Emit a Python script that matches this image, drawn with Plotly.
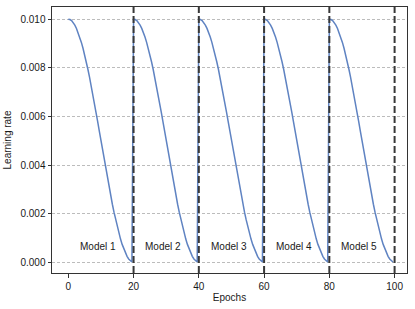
import plotly.graph_objects as go

# Learning-rate values within one cycle (epoch offsets 0 .. 19.5, half-epoch steps)
cycle_offsets = [0, 0.5, 1, 1.5, 2, 2.5, 3, 3.5, 4, 4.5, 5, 5.5, 6, 6.5, 7, 7.5, 8, 8.5, 9, 9.5,
                 10, 10.5, 11, 11.5, 12, 12.5, 13, 13.5, 14, 14.5, 15, 15.5, 16, 16.5, 17, 17.5,
                 18, 18.5, 19, 19.5]
cycle_lr = [0.010000, 0.009985, 0.009938, 0.009862, 0.009755, 0.009619, 0.009455, 0.009263,
            0.009045, 0.008802, 0.008536, 0.008247, 0.007939, 0.007612, 0.007270, 0.006913,
            0.006545, 0.006167, 0.005782, 0.005392, 0.005000, 0.004608, 0.004218, 0.003833,
            0.003455, 0.003087, 0.002730, 0.002388, 0.002061, 0.001753, 0.001464, 0.001198,
            0.000955, 0.000737, 0.000545, 0.000381, 0.000245, 0.000138, 0.000062, 0.000015]
cycle_starts = [0, 20, 40, 60, 80]
model_labels = ["Model 1", "Model 2", "Model 3", "Model 4", "Model 5"]
boundaries = [20, 40, 60, 80, 100]
x_ticks = [0, 20, 40, 60, 80, 100]
y_ticks = [0.000, 0.002, 0.004, 0.006, 0.008, 0.010]

epochs = []
lrs = []
for s in cycle_starts:
    epochs += [s + o for o in cycle_offsets]
    lrs += cycle_lr

FONT = "Liberation Sans, Arial, sans-serif"
TXT = "#1a1a1a"
fig = go.Figure()
fig.add_trace(go.Scatter(x=epochs, y=lrs, mode="lines",
                         line=dict(color="#5F83C2", width=1.5), showlegend=False))

for b in boundaries:
    fig.add_shape(type="line", x0=b, x1=b, y0=0, y1=1, xref="x", yref="paper",
                  line=dict(color="#383838", width=2, dash="7px,3px"), layer="above")

for s, lab in zip(cycle_starts, model_labels):
    fig.add_annotation(x=s + 3, y=0.00063, text=lab, showarrow=False, xanchor="left",
                       yanchor="middle", font=dict(size=10, color=TXT, family=FONT))

axis_common = dict(showline=True, linecolor="#333333", linewidth=1, mirror=True,
                   ticks="outside", ticklen=3.5, tickwidth=1, tickcolor="#333333",
                   zeroline=False, automargin=False,
                   tickfont=dict(size=10, color=TXT, family=FONT))

fig.update_xaxes(range=[-5, 103.8], tickvals=x_ticks, showgrid=False,
                 title=dict(text="Epochs", font=dict(size=10, color=TXT, family=FONT), standoff=3),
                 **axis_common)
fig.update_yaxes(range=[-0.00044, 0.0105], tickvals=y_ticks, tickformat=".3f",
                 showgrid=True, gridcolor="#bcbcbc", gridwidth=0.8, griddash="3px,2px",
                 title=dict(text="Learning rate", font=dict(size=10, color=TXT, family=FONT), standoff=6),
                 **axis_common)

fig.update_layout(width=415, height=309, margin=dict(l=52, r=8, t=7, b=36, autoexpand=False),
                  paper_bgcolor="white", plot_bgcolor="white", font=dict(family=FONT, color=TXT))

fig.write_html("out.html", config={"displayModeBar": False},
               post_script="document.body.style.margin='0';document.body.style.overflow='hidden';")
